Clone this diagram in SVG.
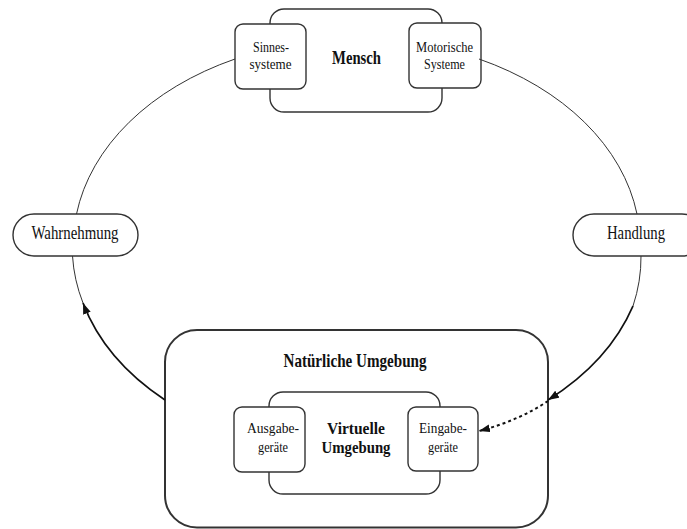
<svg xmlns="http://www.w3.org/2000/svg" width="687" height="529" viewBox="0 0 687 529">
  <style>
    .box { fill: #ffffff; stroke: #333333; stroke-width: 1.4; }
    .outer { fill: #ffffff; stroke: #333333; stroke-width: 2; }
    .thin { fill: none; stroke: #333333; stroke-width: 1; }
    .flow { fill: none; stroke: #111111; stroke-width: 1.8; }
    .dotted { fill: none; stroke: #111111; stroke-width: 2; stroke-dasharray: 3 3; }
    text { font-family: "Liberation Serif", "Times New Roman", serif; font-size: 19px; fill: #111111; text-anchor: middle; }
    .bold { font-weight: bold; }
    .small { font-size: 15px; }
    .mid { font-size: 16px; }
  </style>
  <defs>
    <marker id="arrow" markerUnits="userSpaceOnUse" markerWidth="12" markerHeight="9" refX="11" refY="4" orient="auto">
      <path d="M0,0 L11,4 L0,8 z" fill="#111111"/>
    </marker>
  </defs>

  <!-- environment containers -->
  <g id="natuerliche-umgebung">
    <rect class="outer" x="165" y="330" width="383" height="197.5" rx="32"/>
    <text class="bold" x="355" y="367" textLength="143" lengthAdjust="spacingAndGlyphs">Natürliche Umgebung</text>
  </g>
  <g id="virtuelle-umgebung">
    <rect class="box" x="269" y="392" width="171" height="102" rx="14"/>
    <text class="bold mid" x="356" y="434" textLength="58" lengthAdjust="spacingAndGlyphs">Virtuelle</text>
    <text class="bold mid" x="356" y="453" textLength="69" lengthAdjust="spacingAndGlyphs">Umgebung</text>
  </g>
  <g id="ausgabegeraete">
    <rect class="box" x="234" y="407" width="71" height="65" rx="8"/>
    <text class="small" x="273" y="433" textLength="52" lengthAdjust="spacingAndGlyphs">Ausgabe-</text>
    <text class="small" x="273" y="451.5" textLength="30" lengthAdjust="spacingAndGlyphs">geräte</text>
  </g>
  <g id="eingabegeraete">
    <rect class="box" x="408" y="407" width="70" height="64" rx="8"/>
    <text class="small" x="443" y="433" textLength="48" lengthAdjust="spacingAndGlyphs">Eingabe-</text>
    <text class="small" x="443" y="451.5" textLength="30" lengthAdjust="spacingAndGlyphs">geräte</text>
  </g>

  <!-- human -->
  <g id="mensch">
    <rect class="box" x="270" y="9" width="172" height="103" rx="14"/>
    <text class="bold" x="356.5" y="63.5" textLength="49" lengthAdjust="spacingAndGlyphs">Mensch</text>
  </g>
  <g id="sinnessysteme">
    <rect class="box" x="235" y="24" width="71" height="65" rx="8"/>
    <text class="small" x="271" y="51.5" textLength="36" lengthAdjust="spacingAndGlyphs">Sinnes-</text>
    <text class="small" x="270.5" y="68.5" textLength="42" lengthAdjust="spacingAndGlyphs">systeme</text>
  </g>
  <g id="motorische-systeme">
    <rect class="box" x="409" y="23" width="72" height="65" rx="8"/>
    <text class="small" x="444.5" y="51.5" textLength="57" lengthAdjust="spacingAndGlyphs">Motorische</text>
    <text class="small" x="444.5" y="68.5" textLength="41" lengthAdjust="spacingAndGlyphs">Systeme</text>
  </g>

  <!-- loop connectors -->
  <g id="connectors">
    <path class="thin" d="M235,59 A284.5,206 0 0 0 76.5,214"/>
    <path class="thin" d="M72.5,256 A284.5,206 0 0 0 83,303"/>
    <path class="flow" d="M165,400 A284.5,206 0 0 1 83,303" marker-end="url(#arrow)"/>
    <path class="thin" d="M479,59 A284.5,206 0 0 1 637,214"/>
    <path class="thin" d="M641,256 A284.5,206 0 0 1 633,306"/>
    <path class="flow" d="M633,306 A284.5,206 0 0 1 548,400" marker-end="url(#arrow)"/>
    <path class="dotted" d="M548,401 Q518,421 479,431" marker-end="url(#arrow)"/>
  </g>

  <!-- perception and action -->
  <g id="wahrnehmung">
    <rect class="box" x="13" y="214" width="125" height="42" rx="21"/>
    <text x="75" y="239" textLength="87" lengthAdjust="spacingAndGlyphs">Wahrnehmung</text>
  </g>
  <g id="handlung">
    <rect class="box" x="573" y="214" width="130" height="42" rx="21"/>
    <text x="636" y="239" textLength="58" lengthAdjust="spacingAndGlyphs">Handlung</text>
  </g>
</svg>
